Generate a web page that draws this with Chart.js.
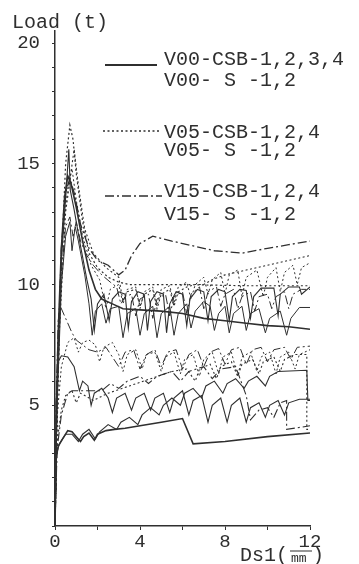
<!DOCTYPE html>
<html>
<head>
<meta charset="utf-8">
<script src="https://cdn.jsdelivr.net/npm/chart.js@4/dist/chart.umd.min.js"></script>
<style>
  html, body { margin: 0; padding: 0; background: #fff; }
  #chart { display: block; }
</style>
</head>
<body>
<canvas id="chart" width="359" height="564"></canvas>
<script>
// Load (t) vs Ds1 (mm)
const yTickLabels = [5, 10, 15, 20];
const xTickLabels = [0, 4, 8, 12];
const legendLabels = [
  ["V00-CSB-1,2,3,4", "V00- S -1,2"],
  ["V05-CSB-1,2,4", "V05- S -1,2"],
  ["V15-CSB-1,2,4", "V15- S -1,2"]
];

// V00 (solid)
const v00a = [[0,0],[0.05,4],[0.15,8],[0.3,11.5],[0.45,13.6],[0.6,14.5],[0.75,14.2],[1.0,13.2],[1.3,11.8],[1.6,10.6],[1.9,9.8],[2.2,9.4],[2.7,9.2],[3.2,9.0],[4,8.95],[5,8.9],[6,8.8],[7,8.6],[8,8.5],[9,8.4],[10,8.3],[11,8.25],[12,8.15]];
const v00b = [[0,0],[0.1,6],[0.3,11],[0.5,13.6],[0.65,15.6],[0.72,13.9],[0.9,13.1],[1.2,11.6],[1.5,10.2],[1.7,9.4],[1.85,8.1],[2.0,9.2],[2.3,9.6],[2.55,8.5],[2.7,9.4],[3.0,9.7],[3.3,9.6],[3.45,8.2],[3.6,9.3],[3.9,9.7],[4.2,9.6],[4.35,8.1],[4.5,9.3],[4.8,9.7],[5.1,9.6],[5.25,8.0],[5.4,9.2],[5.7,9.7],[6.0,9.6],[6.2,8.3],[6.35,9.4],[6.7,9.8],[7.0,9.7],[7.2,8.5],[7.35,9.5],[7.7,9.8],[8.0,9.7],[8.2,8.5],[8.35,9.5],[8.7,9.8],[9.0,9.75],[9.2,8.6],[9.35,9.5],[9.7,9.85],[10.3,9.85],[10.5,8.7],[10.6,9.6],[11,9.9],[11.5,9.9],[11.6,9.6],[12,9.9]];
const v00c = [[0,0],[0.1,5],[0.3,10],[0.5,12],[0.7,12.6],[0.8,11.4],[0.95,12.4],[1.1,11.8],[1.4,10.4],[1.6,9.2],[1.75,7.9],[1.9,8.9],[2.2,9.2],[2.4,8.4],[2.6,9.0],[3.0,9.1],[3.2,7.8],[3.4,8.8],[3.8,9.0],[4.0,7.9],[4.2,8.8],[4.6,9.1],[4.8,7.8],[5.0,8.8],[5.4,9.1],[5.6,7.9],[5.8,8.8],[6.2,9.2],[6.4,8.2],[6.6,8.9],[7.0,9.3],[7.3,9.1],[7.5,8.1],[7.7,8.8],[8.0,9.1],[8.2,8.0],[8.4,8.8],[8.8,9.1],[9.0,8.1],[9.2,8.8],[9.6,9.0],[9.9,8.0],[10.1,8.6],[10.6,8.9],[10.9,7.9],[11.1,8.6],[11.5,9.05],[12,9.05]];
const v00d = [[0,0],[0.05,2.8],[0.15,3.3],[0.35,3.6],[0.6,3.95],[0.8,3.9],[1.0,3.7],[1.2,3.5],[1.35,3.7],[1.6,3.85],[1.85,3.55],[2.0,3.8],[2.4,3.95],[2.8,4.0],[3.3,4.05],[4,4.15],[5,4.3],[6.0,4.45],[6.5,3.4],[8,3.5],[10,3.7],[12,3.85]];
const v00e = [[0,0],[0.05,2.9],[0.2,3.4],[0.5,3.8],[0.8,3.8],[1.1,3.5],[1.3,3.8],[1.6,4.0],[1.9,3.6],[2.1,3.9],[2.5,4.2],[2.9,4.0],[3.1,4.3],[3.5,4.5],[3.9,4.2],[4.1,4.6],[4.5,4.9],[4.9,4.6],[5.1,5.0],[5.5,5.3],[5.9,5.0],[6.1,5.5],[6.5,5.7],[6.9,5.3],[7.1,5.8],[7.5,6.0],[7.9,5.5],[8.1,5.9],[8.5,6.1],[8.9,5.7],[9.1,6.0],[9.5,6.2],[9.9,5.8],[10.1,6.2],[10.5,6.4],[11.85,6.45],[11.9,5.2],[12,5.2]];
const v00f = [[0,0],[0.05,5],[0.15,6.8],[0.3,7.05],[0.6,7.0],[0.9,6.6],[1.15,5.6],[1.3,6.0],[1.55,5.8],[1.7,5.0],[1.85,5.5],[2.2,5.7],[2.5,5.3],[2.7,4.7],[2.9,5.3],[3.3,5.5],[3.6,4.8],[3.8,5.3],[4.2,5.5],[4.5,4.8],[4.7,5.3],[5.1,5.5],[5.4,4.7],[5.6,5.3],[6.0,5.6],[6.3,4.6],[6.5,5.2],[6.9,5.4],[7.2,4.3],[7.4,5.0],[7.8,5.3],[8.1,4.3],[8.3,5.0],[8.7,5.3],[9.0,4.3],[9.2,4.9],[9.6,5.1],[9.9,4.5],[10.1,5.0],[10.5,5.2],[10.8,4.6],[11.0,5.1],[11.5,5.25],[12,5.25]];

// V05 (dotted)
const v05a = [[0,0],[0.1,5],[0.3,11],[0.5,15],[0.7,16.6],[0.85,16.0],[1.0,14.6],[1.3,12.6],[1.6,11.3],[2.0,10.7],[2.5,10.3],[3.0,10.1],[3.5,10.0],[6,10.0],[9,9.95],[12,9.95]];
const v05b = [[0,0],[0.2,8],[0.5,13],[0.9,15.6],[1.1,14.1],[1.4,12.3],[1.8,11.3],[2.4,10.7],[3.0,10.3],[3.2,9.3],[3.4,9.7],[3.8,9.8],[4.0,9.1],[4.2,9.6],[4.6,9.8],[4.8,9.0],[5.0,9.6],[5.4,9.8],[5.6,9.1],[5.8,9.7],[6.2,9.9],[6.6,10.0],[7.0,10.0],[7.4,10.2],[8.0,10.4],[9.0,10.6],[10.0,10.8],[11.0,11.0],[12,11.2]];
const v05c = [[0,0],[0.1,6],[0.3,11.5],[0.6,14.0],[0.8,14.8],[1.0,13.5],[1.3,12],[1.7,10.8],[2.1,10.2],[2.4,9.0],[2.6,9.8],[3.0,10.0],[3.2,9.2],[3.4,9.8],[3.8,9.9],[4.0,9.0],[4.2,9.7],[4.6,9.9],[4.8,9.1],[5.0,9.8],[5.4,9.95],[5.6,9.2],[5.8,9.9],[6.2,10.1],[6.4,9.4],[6.6,10.0],[7.0,10.3],[7.2,9.6],[7.4,10.2],[7.8,10.5],[8.0,9.6],[8.2,10.4],[8.6,10.6],[8.8,9.5],[9.0,10.3],[9.5,10.6],[9.8,9.5],[10.0,10.3],[10.4,10.7],[10.6,9.7],[10.8,10.5],[11.2,10.8],[11.4,10.0],[11.6,10.7],[12,10.9]];
const v05d = [[0,0],[0.1,3.5],[0.3,4.8],[0.5,5.4],[0.8,5.6],[1.0,5.1],[1.2,5.5],[1.8,5.2],[2.5,5.5],[3.5,5.8],[4.5,6.1],[5.5,6.4],[6.2,6.5],[6.6,6.0],[6.8,6.5],[7.3,6.7],[7.6,6.1],[7.8,6.6],[8.3,6.8],[8.6,6.2],[8.8,6.7],[9.3,6.9],[9.6,6.3],[9.8,6.8],[10.3,7.0],[10.6,6.4],[10.8,6.9],[11.3,7.1],[11.85,7.1],[11.85,4.0],[12,4.0]];
const v05e = [[0,0],[0.1,4.5],[0.3,6.6],[0.6,7.6],[0.9,7.8],[1.1,7.2],[1.3,7.6],[1.6,7.7],[1.9,7.5],[2.1,6.8],[2.3,7.4],[2.7,7.6],[3.0,7.1],[3.2,6.4],[3.4,7.1],[3.8,7.3],[4.1,6.5],[4.3,7.1],[4.7,7.2],[5.0,6.4],[5.2,7.0],[5.6,7.2],[5.9,6.3],[6.1,6.9],[6.5,7.1],[6.8,6.2],[7.0,6.9],[7.4,7.2],[7.7,6.3],[7.9,7.0],[8.3,7.2],[8.6,6.2],[8.8,7.0],[9.2,7.2],[9.5,6.4],[9.7,7.0],[10.1,7.2],[10.4,6.3],[10.6,7.0],[11.0,7.2],[11.3,6.5],[11.5,7.1],[12,7.3]];

// V15 (dash-dot)
const v15a = [[0,0],[0.1,6],[0.3,11.5],[0.5,13.8],[0.7,14.4],[0.9,13.8],[1.2,12.5],[1.6,11.5],[2.0,11.0],[2.5,10.8],[3.0,10.4],[3.3,10.6],[3.6,11.2],[4.0,11.7],[4.6,12.0],[5.5,11.8],[6.5,11.6],[7.5,11.4],[8.8,11.3],[10,11.5],[11,11.65],[12,11.8]];
const v15b = [[0,0],[0.1,5.5],[0.3,10.5],[0.5,12.4],[0.7,12.8],[0.85,12.0],[1.0,12.6],[1.2,11.8],[1.5,11.2],[1.8,10.8],[2.2,10.4],[2.6,10.1],[2.9,9.9],[3.1,9.2],[3.3,9.5],[3.6,9.6],[3.8,8.7],[4.0,9.4],[4.4,9.6],[4.6,8.6],[4.8,9.4],[5.2,9.6],[5.4,8.7],[5.6,9.5],[6.0,9.7],[6.2,8.8],[6.4,9.6],[6.8,9.9],[7.0,9.0],[7.2,9.7],[7.6,9.9],[7.8,9.1],[8.0,9.6],[8.4,9.8],[8.6,9.0],[8.8,9.5],[9.2,9.7],[9.4,8.9],[9.6,9.5],[10,9.6],[10.2,9.0],[10.4,9.5],[10.8,9.7],[11.0,9.0],[11.2,9.6],[11.6,9.8],[12,9.8]];
const v15c = [[0,0],[0.05,5],[0.15,8.5],[0.25,9.1],[0.5,8.6],[0.8,8.0],[1.0,7.7],[1.3,7.5],[1.6,7.3],[2.0,7.2],[2.4,7.4],[2.7,7.0],[3.0,6.6],[3.3,7.2],[3.7,7.3],[4.0,6.5],[4.3,7.1],[4.7,7.3],[5.0,6.6],[5.3,7.2],[5.7,7.3],[6.0,6.5],[6.3,7.1],[6.7,7.3],[7.0,6.6],[7.3,7.2],[7.7,7.35],[8.0,6.7],[8.3,7.3],[8.7,7.4],[9.0,6.7],[9.3,7.3],[9.7,7.4],[10.0,6.8],[10.3,7.3],[10.8,7.4],[11.1,6.9],[11.4,7.4],[12,7.45]];
const v15d = [[0,0],[0.1,3.2],[0.3,4.6],[0.6,5.5],[0.8,5.6],[2.2,5.6],[2.6,5.9],[3.0,5.7],[3.4,6.0],[4.0,6.2],[4.4,5.9],[4.8,6.2],[5.5,6.4],[5.9,6.0],[6.3,6.4],[7.0,6.6],[7.4,6.1],[7.8,6.5],[8.5,6.6],[9.0,5.4],[9.2,4.4],[9.6,4.8],[10.0,4.9],[10.3,4.5],[10.6,5.1],[10.9,5.2],[10.9,4.0],[12,4.15]];

const INK = "#2f2f2f";
const FONT = "'Liberation Mono', 'DejaVu Sans Mono', monospace";
const DOT = [2, 2.5];
const DASHDOT = [9, 3, 2, 3];

function series(points, dash, width) {
  return {
    data: points.map(p => ({ x: p[0], y: p[1] })),
    borderColor: INK,
    borderWidth: width,
    borderDash: dash,
    pointRadius: 0,
    fill: false,
    tension: 0
  };
}

const datasets = [
  series(v00a, [], 1.6), series(v00b, [], 1.1), series(v00c, [], 1.0),
  series(v00d, [], 1.6), series(v00e, [], 1.1), series(v00f, [], 1.1),
  series(v05a, DOT, 1.2), series(v05b, DOT, 1.1), series(v05c, DOT, 1.0),
  series(v05d, DOT, 1.1), series(v05e, DOT, 1.0),
  series(v15a, DASHDOT, 1.3), series(v15b, DASHDOT, 1.0),
  series(v15c, DASHDOT, 1.0), series(v15d, DASHDOT, 1.1)
];

// legend, axis caption and unit drawn by hand, like the scanned figure
const annotations = {
  id: "annotations",
  afterDraw(chart) {
    const ctx = chart.ctx;
    ctx.save();
    ctx.fillStyle = INK;
    ctx.strokeStyle = INK;
    ctx.font = "20px " + FONT;
    ctx.textBaseline = "middle";
    ctx.textAlign = "left";
    ctx.fillText("Load (t)", 12, 23);

    const samples = [
      { dash: [], width: 2, y: 65, x0: 105, x1: 157 },
      { dash: DOT, width: 1.3, y: 131, x0: 103, x1: 160 },
      { dash: DASHDOT, width: 1.3, y: 196, x0: 105, x1: 162 }
    ];
    const textY = [[60, 81], [133, 151], [192, 215]];
    samples.forEach((s, i) => {
      ctx.setLineDash(s.dash);
      ctx.lineWidth = s.width;
      ctx.beginPath();
      ctx.moveTo(s.x0, s.y);
      ctx.lineTo(s.x1, s.y);
      ctx.stroke();
      ctx.fillText(legendLabels[i][0], 164, textY[i][0]);
      ctx.fillText(legendLabels[i][1], 164, textY[i][1]);
    });
    ctx.setLineDash([]);

    // "Ds1(mm)" with the unit set small under a bar, the 12 tick sits above it
    ctx.fillText("Ds1(", 240, 556);
    ctx.fillText(")", 312, 556);
    ctx.font = "13px " + FONT;
    ctx.fillText("mm", 291, 559);
    ctx.lineWidth = 1;
    ctx.beginPath();
    ctx.moveTo(290, 551);
    ctx.lineTo(312, 551);
    ctx.stroke();
    ctx.restore();
  }
};

new Chart(document.getElementById("chart"), {
  type: "line",
  data: { datasets },
  options: {
    responsive: false,
    animation: false,
    devicePixelRatio: 1,
    layout: { padding: { top: 31, right: 49, left: 0, bottom: 0 } },
    plugins: { legend: { display: false }, tooltip: { enabled: false } },
    scales: {
      x: {
        type: "linear",
        min: 0,
        max: 12,
        afterFit: (scale) => { scale.height = 38; },
        border: { display: true, color: INK, width: 1.5 },
        grid: { drawOnChartArea: false, drawTicks: true, tickLength: 4, color: INK },
        ticks: {
          stepSize: 2,
          autoSkip: false,
          maxRotation: 0,
          padding: 1,
          color: INK,
          font: { family: FONT, size: 19 },
          callback: (v) => (xTickLabels.includes(v) ? String(v) : "")
        }
      },
      y: {
        type: "linear",
        min: 0,
        max: 20.5,
        afterFit: (scale) => { scale.width = 55; },
        afterBuildTicks: (scale) => {
          const t = [];
          for (let v = 0; v <= 20; v++) t.push({ value: v });
          scale.ticks = t;
        },
        border: { display: true, color: INK, width: 1.5 },
        grid: { drawOnChartArea: false, drawTicks: true, tickLength: 3, color: INK },
        ticks: {
          autoSkip: false,
          padding: 12,
          color: INK,
          font: { family: FONT, size: 19 },
          callback: (v) => (yTickLabels.includes(v) ? String(v) : "")
        }
      }
    }
  },
  plugins: [annotations]
});
</script>
</body>
</html>
